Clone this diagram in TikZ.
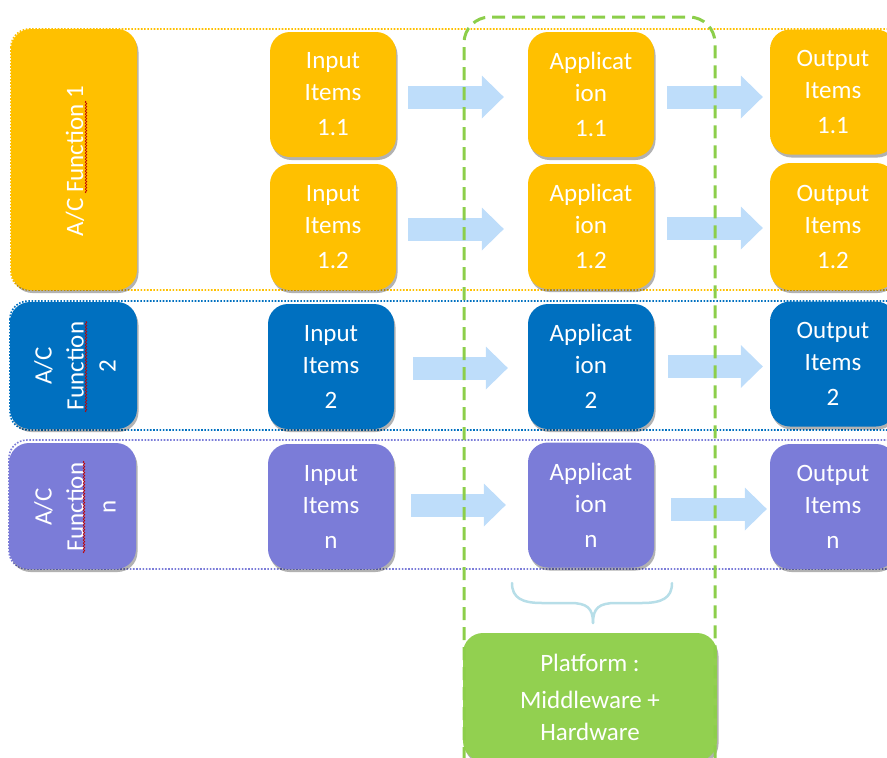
\documentclass[tikz,border=0pt]{standalone}
\usepackage{fontspec}
\setmainfont{Carlito}
\usetikzlibrary{arrows.meta,shadows,decorations.pathmorphing}
\definecolor{cyel}{RGB}{255,192,0}
\definecolor{cblue}{RGB}{0,112,192}
\definecolor{cpur}{RGB}{123,124,216}
\definecolor{cgreen}{RGB}{146,208,80}
\definecolor{cdash}{RGB}{140,206,74}
\definecolor{carrow}{RGB}{190,221,250}
\definecolor{cbrace}{RGB}{183,222,232}
\begin{document}
\begin{tikzpicture}[x=1pt,y=-1pt,
  box/.style={rounded corners=20pt, minimum width=126pt, minimum height=125pt,
    inner sep=0pt, text=white, align=center, font=\fontsize{25}{32}\selectfont,
    drop shadow={shadow xshift=1.5pt,shadow yshift=-3pt,opacity=0.3,fill=black}},
  vtext/.style={rotate=90, text=white, align=center, inner sep=0pt, font=\fontsize{25}{32}\selectfont},
  band/.style={line width=1.6pt, dash pattern=on 1.6pt off 1.6pt, rounded corners=18pt},
  flow/.style={draw=carrow, line width=23pt, -{Triangle[length=22pt,width=43pt,line width=0pt]}},
  squig/.style={draw=red!75!black, line width=0.7pt, decorate, decoration={snake, amplitude=0.8pt, segment length=3pt}}
]
\useasboundingbox (0,0) rectangle (887,758);
\begin{scope}
\clip (0,0) rectangle (887,758);
% bands
\draw[band, draw=cyel] (11,29) rectangle (910,290);
\draw[band, draw=cblue] (10,301) rectangle (910,430);
\draw[band, draw=cpur] (9,440) rectangle (910,569);

% A/C function boxes
\node[box, fill=cyel, minimum width=126pt, minimum height=261pt] (f1) at (74,159.5) {};
\node[vtext] (f1t) at (75,161) {A/C Function 1};
\node[box, fill=cblue, minimum width=127pt, minimum height=127pt] (f2) at (73.5,365.5) {};
\node[vtext] (f2t) at (75,366) {A/C\\Function\\2};
\node[box, fill=cpur, minimum width=127pt, minimum height=126pt] (fn) at (72.5,506) {};
\node[vtext] (fnt) at (75,507) {A/C\\Function\\n};
\draw[squig] (86,193) -- (86,101);
\draw[squig] (86,412) -- (86,321);
\draw[squig] (84,553) -- (84,461);

% input boxes
\node[box, fill=cyel] (in11) at (333,94.5) {Input\\Items\\[3pt]1.1};
\node[box, fill=cyel, minimum height=126pt] (in12) at (333,227) {Input\\Items\\[3pt]1.2};
\node[box, fill=cblue] (in2) at (331,366.5) {Input\\Items\\[3pt]2};
\node[box, fill=cpur] (inn) at (331,506.5) {Input\\Items\\[3pt]n};

% application boxes
\node[box, fill=cyel] (app11) at (591,94.5) {Applicat\\ion\\[3pt]1.1};
\node[box, fill=cyel] (app12) at (591,226.5) {Applicat\\ion\\[3pt]1.2};
\node[box, fill=cblue] (app2) at (591,366.5) {Applicat\\ion\\[3pt]2};
\node[box, fill=cpur] (appn) at (591,505) {Applicat\\ion\\[3pt]n};

% output boxes
\node[box, fill=cyel] (out11) at (833,92) {Output\\Items\\[3pt]1.1};
\node[box, fill=cyel, minimum height=127pt] (out12) at (833,226.5) {Output\\Items\\[3pt]1.2};
\node[box, fill=cblue] (out2) at (833,364) {Output\\Items\\[3pt]2};
\node[box, fill=cpur] (outn) at (833,506.5) {Output\\Items\\[3pt]n};

% flow arrows
\draw[flow] ([xshift=12pt,yshift=-2.5pt]in11.east) coordinate (a1) -- ([xshift=-24pt]a1 -| app11.west);
\draw[flow] ([xshift=13pt,yshift=-2.5pt]app11.east) coordinate (b1) -- ([xshift=-7pt]b1 -| out11.west);
\draw[flow] ([xshift=12pt,yshift=-2pt]in12.east) coordinate (a2) -- ([xshift=-24pt]a2 -| app12.west);
\draw[flow] ([xshift=13pt,yshift=-1.5pt]app12.east) coordinate (b2) -- ([xshift=-7pt]b2 -| out12.west);
\draw[flow] ([xshift=19pt,yshift=-1.5pt]in2.east) coordinate (a3) -- ([xshift=-20pt]a3 -| app2.west);
\draw[flow] ([xshift=14pt]app2.east) coordinate (b3) -- ([xshift=-7pt]b3 -| out2.west);
\draw[flow] ([xshift=17pt,yshift=1.5pt]inn.east) coordinate (a4) -- ([xshift=-22pt]a4 -| appn.west);
\draw[flow] ([xshift=17pt,yshift=-4pt]appn.east) coordinate (b4) -- ([xshift=-3pt]b4 -| outn.west);

% brace
\draw[cbrace, line width=2.5pt, line cap=round]
  (512,583) .. controls (512,598) and (522,603) .. (542,603) -- (570,603)
  .. controls (587,603) and (593,608) .. (593,623);
\draw[cbrace, line width=2.5pt, line cap=round]
  (672,583) .. controls (672,598) and (662,603) .. (642,603) -- (616,603)
  .. controls (599,603) and (593,608) .. (593,623);

% platform
\node[box, fill=cgreen, minimum width=254pt, minimum height=128pt] (plat) at (590,697)
  {Platform :\\[5pt]Middleware +\\Hardware};

% platform group (dashed)
\draw[draw=cdash, line width=3pt, dash pattern=on 13pt off 7pt, rounded corners=26pt]
  (464,800) -- (464,17) -- (715,17) -- (715,800);
\end{scope}
\end{tikzpicture}
\end{document}
